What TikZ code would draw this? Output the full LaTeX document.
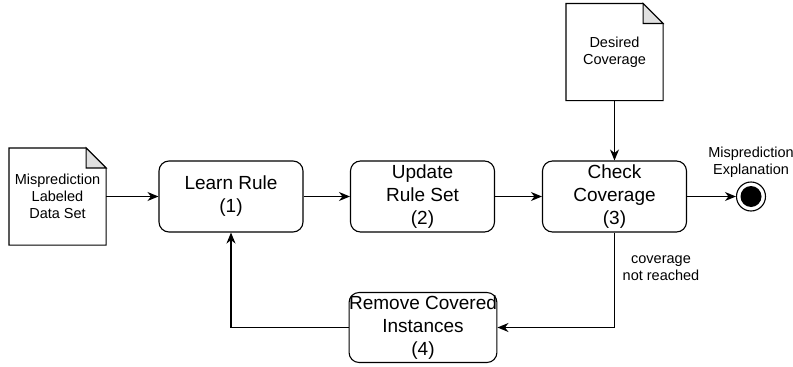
\documentclass[tikz,border=0pt]{standalone}
\usepackage{fontspec}
\setmainfont{Liberation Sans}
\usetikzlibrary{arrows.meta}
\begin{document}
\begin{tikzpicture}[x=1pt,y=-1pt, line width=1.1pt,
  proc/.style={draw, rounded corners=10pt, minimum width=144pt, minimum height=71pt, align=center, font=\fontsize{19}{23}\selectfont, inner sep=0pt},
  arr/.style={-{Stealth[length=11pt,width=9pt,inset=3.5pt]}},
  small/.style={font=\fontsize{14.5}{17}\selectfont, align=center},
  docbox/.style={minimum width=96pt, minimum height=96pt, inner sep=0pt, small},
  fold/.style={fill=black!12}]
\useasboundingbox (0,0) rectangle (793,367);

\node[proc] (learn) at (231,196.5) {Learn Rule\\(1)};
\node[proc] (update) at (422.5,196.5) {Update\\Rule Set\\(2)};
\node[proc] (check) at (614.5,196.5) {Check\\Coverage\\(3)};
\node[proc, minimum height=70pt] (remove) at (423,327.5) {Remove Covered\\Instances\\(4)};

\node[docbox] (doc1) at (57.5,196.5) {Misprediction\\Labeled\\Data Set};
\node[docbox] (desired) at (614.5,52) {Desired\\Coverage};

\foreach \d in {doc1,desired}{
  \draw (\d.north west) -- ([xshift=-20pt]\d.north east) -- ([yshift=-20pt]\d.north east) -- (\d.south east) -- (\d.south west) -- cycle;
  \draw[fold] ([xshift=-20pt]\d.north east) -- ([xshift=-20pt,yshift=-20pt]\d.north east) -- ([yshift=-20pt]\d.north east) -- cycle;
}

\node[circle, draw, minimum size=29pt, inner sep=0pt] (end) at (751,196.5) {};
\fill (end.center) circle (10.5pt);

\node[small] (explab) at (751,162) {Misprediction\\Explanation};
\node[small] (covlab) at (661,268) {coverage\\not reached};

\draw[arr] (doc1.east) -- (learn.west);
\draw[arr] (learn.east) -- (update.west);
\draw[arr] (update.east) -- (check.west);
\draw[arr] (check.east) -- (end.west);
\draw[arr] (desired.south) -- (check.north);
\draw[arr] (check.south) |- (remove.east);
\draw[arr] (remove.west) -| (learn.south);
\end{tikzpicture}
\end{document}
